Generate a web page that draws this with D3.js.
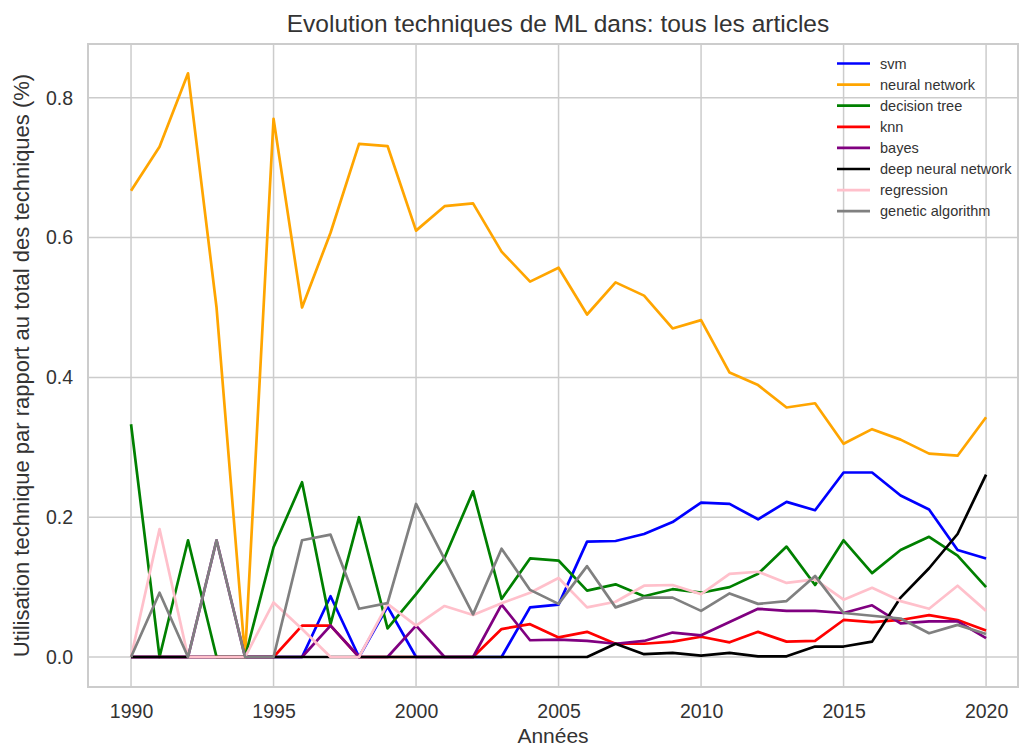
<!DOCTYPE html>
<html><head><meta charset="utf-8">
<script src="https://cdn.jsdelivr.net/npm/d3@7"></script>
<style>body{margin:0;background:#fff;} svg{display:block;font-family:"Liberation Sans",Arial,sans-serif;}</style>
</head><body><svg id="chart" width="1019" height="749"></svg>
<script>
const years = d3.range(1990, 2021);
const seriesNames = ["svm","neural network","decision tree","knn","bayes","deep neural network","regression","genetic algorithm"];
const seriesColors = ["blue","orange","green","red","purple","black","pink","grey"];
const svm = [0,0,0,0,0,0,0,0.087,0,0.072,0,0,0,0,0.071,0.075,0.165,0.166,0.176,0.193,0.221,0.219,0.197,0.222,0.21,0.264,0.264,0.231,0.211,0.153,0.141];
const neuralNetwork = [0.667,0.73,0.835,0.5,0,0.77,0.5,0.607,0.734,0.731,0.61,0.645,0.649,0.58,0.537,0.557,0.49,0.536,0.517,0.47,0.482,0.407,0.389,0.357,0.363,0.305,0.326,0.311,0.291,0.288,0.343];
const decisionTree = [0.333,0,0.167,0,0,0.157,0.25,0.047,0.2,0.041,0.09,0.142,0.237,0.083,0.141,0.138,0.095,0.104,0.087,0.097,0.092,0.1,0.119,0.158,0.103,0.167,0.12,0.153,0.172,0.145,0.1];
const knn = [0,0,0,0,0,0,0.045,0.045,0,0,0,0,0,0.04,0.047,0.028,0.036,0.019,0.019,0.022,0.029,0.021,0.036,0.022,0.023,0.053,0.05,0.053,0.06,0.053,0.038];
const bayes = [0,0,0,0.167,0,0,0,0.045,0,0,0.045,0,0,0.075,0.024,0.025,0.023,0.019,0.023,0.035,0.031,0.05,0.069,0.066,0.066,0.063,0.074,0.048,0.051,0.051,0.027];
const deepNeuralNetwork = [0,0,0,0,0,0,0,0,0,0,0,0,0,0,0,0,0,0.019,0.004,0.006,0.002,0.006,0.001,0.001,0.015,0.015,0.022,0.085,0.127,0.176,0.261];
const regression = [0,0.183,0,0,0,0.078,0.04,0,0,0.076,0.045,0.073,0.06,0.077,0.092,0.113,0.071,0.079,0.102,0.103,0.09,0.119,0.122,0.106,0.111,0.082,0.099,0.08,0.069,0.102,0.066];
const geneticAlgorithm = [0,0.092,0,0.167,0,0,0.167,0.175,0.069,0.077,0.219,0.14,0.061,0.155,0.096,0.076,0.13,0.071,0.085,0.085,0.066,0.091,0.076,0.08,0.116,0.063,0.059,0.055,0.034,0.046,0.033];
const xTicks = [1990,1995,2000,2005,2010,2015,2020];
const yTicks = [0,0.2,0.4,0.6,0.8];
const titleText = "Evolution techniques de ML dans: tous les articles";
const xLabel = "Années";
const yLabel = "Utilisation technique par rapport au total des techniques (%)";

const seriesValues = [svm,neuralNetwork,decisionTree,knn,bayes,deepNeuralNetwork,regression,geneticAlgorithm];

const svg = d3.select("#chart");
const L = 88, R = 1018, T = 44, B = 687;
const x = d3.scaleLinear().domain([1988.49, 2021.12]).range([L, R]);
const y = d3.scaleLinear().domain([-0.0429, 0.877]).range([B, T]);
const gridColor = "#cccccc", textColor = "#333333";

// grid
svg.append("g").selectAll("line.v").data(xTicks).join("line")
  .attr("x1", d => x(d)).attr("x2", d => x(d)).attr("y1", T).attr("y2", B)
  .attr("stroke", gridColor).attr("stroke-width", 1.5);
svg.append("g").selectAll("line.h").data(yTicks).join("line")
  .attr("x1", L).attr("x2", R).attr("y1", d => y(d)).attr("y2", d => y(d))
  .attr("stroke", gridColor).attr("stroke-width", 1.5);

// axes
const xAxis = svg.append("g").attr("transform", `translate(0,${B})`)
  .call(d3.axisBottom(x).tickValues(xTicks).tickFormat(d3.format("d")).tickSize(0).tickPadding(17));
const yAxis = svg.append("g").attr("transform", `translate(${L},0)`)
  .call(d3.axisLeft(y).tickValues(yTicks).tickFormat(d3.format(".1f")).tickSize(0).tickPadding(15));
[xAxis, yAxis].forEach(a => {
  a.select(".domain").remove();
  a.selectAll("text").attr("fill", textColor).style("font-size", "19.5px").style("font-family", "'Liberation Sans',Arial,sans-serif");
});

// frame
svg.append("rect").attr("x", L).attr("y", T).attr("width", R - L).attr("height", B - T)
  .attr("fill", "none").attr("stroke", gridColor).attr("stroke-width", 2);

// lines
const line = d3.line().x((d, i) => x(years[i])).y(d => y(d));
svg.append("g").selectAll("path").data(seriesValues).join("path")
  .attr("d", d => line(d)).attr("fill", "none")
  .attr("stroke", (d, i) => seriesColors[i]).attr("stroke-width", 2.7)
  .attr("stroke-linejoin", "round");

// legend
const lg = svg.append("g");
seriesNames.forEach((n, i) => {
  const yy = 63.5 + i * 21.1;
  lg.append("line").attr("x1", 837).attr("x2", 870).attr("y1", yy).attr("y2", yy)
    .attr("stroke", seriesColors[i]).attr("stroke-width", 2.7);
  lg.append("text").attr("x", 880).attr("y", yy + 5).text(n)
    .attr("fill", textColor).style("font-size", "14.5px");
});

// title and labels
svg.append("text").attr("x", (L + R) / 2 + 5).attr("y", 32).attr("text-anchor", "middle")
  .attr("fill", textColor).style("font-size", "24.5px").text(titleText);
svg.append("text").attr("x", (L + R) / 2).attr("y", 743).attr("text-anchor", "middle")
  .attr("fill", textColor).style("font-size", "21px").text(xLabel);
svg.append("text").attr("transform", `translate(29,${(T + B) / 2}) rotate(-90)`).attr("text-anchor", "middle")
  .attr("fill", textColor).style("font-size", "22px").text(yLabel);
</script>
</body></html>
